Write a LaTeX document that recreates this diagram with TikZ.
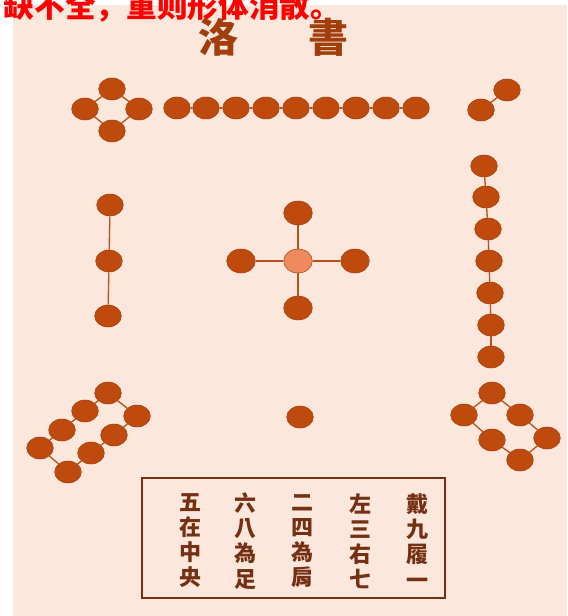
\documentclass[tikz,border=0pt]{standalone}
\usepackage{fontspec}
\newfontfamily\sccjk{Noto Sans CJK SC}
\newfontfamily\tccjk{Noto Sans CJK TC}
\usetikzlibrary{shapes.geometric}
\definecolor{paper}{HTML}{FCE7DC}
\definecolor{beadbrown}{HTML}{BF4A0E}
\definecolor{beadlight}{HTML}{EE8A5E}
\definecolor{inkbrown}{HTML}{743012}
\definecolor{linkbrown}{HTML}{B5521C}
\definecolor{titlebrown}{HTML}{A03E0C}
\tikzset{
  bead/.style={ellipse,fill=beadbrown,draw=beadbrown!85!black,line width=0.4pt,
    minimum width=20pt,minimum height=16.5pt,inner sep=0pt},
  bigbead/.style={bead,minimum width=21.5pt,minimum height=18pt},
  link/.style={draw=linkbrown,line width=1pt},
  verse/.style={text=inkbrown,font=\tccjk\bfseries\fontsize{16.5}{18.8}\selectfont,align=center}
}
\begin{document}
\begin{tikzpicture}[x=0.75pt,y=-0.75pt]
    \useasboundingbox (0,0) rectangle (567,616);
    \fill[white] (0,0) rectangle (567,616);
    \fill[paper] (13,5) rectangle (567,616);
    % title and caption above
    \node[font=\sccjk\bfseries\fontsize{23}{23}\selectfont,text=red,anchor=base west] (note) at (-1,18) {缺不全，重则形体消散。};
    \node[font=\tccjk\bfseries\fontsize{30}{30}\selectfont,text=titlebrown] (luo) at (218,37) {洛};
    \node[font=\tccjk\bfseries\fontsize{30}{30}\selectfont,text=titlebrown] (shu) at (328,37) {書};
    % four, top left
    \node[bead] (a1) at (112,89) {};
    \node[bead] (a2) at (85,109) {};
    \node[bead] (a3) at (139,109) {};
    \node[bead] (a4) at (112,131) {};
    \draw[link] (a1) -- (a2) (a1) -- (a3) (a2) -- (a4) (a3) -- (a4);
    % nine, top
    \node[bead] (n1) at (177,108) {};
    \node[bead] (n2) at (206,108) {};
    \node[bead] (n3) at (236,108) {};
    \node[bead] (n4) at (266,108) {};
    \node[bead] (n5) at (296,108) {};
    \node[bead] (n6) at (326,108) {};
    \node[bead] (n7) at (356,108) {};
    \node[bead] (n8) at (386,108) {};
    \node[bead] (n9) at (416,108) {};
    \foreach \i/\j in {1/2,2/3,3/4,4/5,5/6,6/7,7/8,8/9}
        \draw[link] (n\i) -- (n\j);
    % two, top right
    \node[bead] (b1) at (507,90) {};
    \node[bead] (b2) at (481,110) {};
    \draw[link] (b1) -- (b2);
    % three, left
    \node[bead] (c1) at (110,205) {};
    \node[bead] (c2) at (109,261) {};
    \node[bead] (c3) at (108,316) {};
    \draw[link] (c1) -- (c2) -- (c3);
    % five, centre
    \node[bigbead,fill=beadlight] (m0) at (298,261) {};
    \node[bigbead] (m1) at (298,213) {};
    \node[bigbead] (m2) at (241,261) {};
    \node[bigbead] (m3) at (355,261) {};
    \node[bigbead] (m4) at (298,308) {};
    \draw[link] (m0) -- (m1) (m0) -- (m2) (m0) -- (m3) (m0) -- (m4);
    % seven, right
    \node[bead] (s1) at (484,166) {};
    \node[bead] (s2) at (486,197) {};
    \node[bead] (s3) at (488,229) {};
    \node[bead] (s4) at (489,261) {};
    \node[bead] (s5) at (490,293) {};
    \node[bead] (s6) at (491,325) {};
    \node[bead] (s7) at (491,357) {};
    \foreach \i/\j in {1/2,2/3,3/4,4/5,5/6,6/7}
        \draw[link] (s\i) -- (s\j);
    % one, bottom
    \node[bead] (o1) at (300,417) {};
    % eight, bottom left
    \node[bead] (e1) at (108,393) {};
    \node[bead] (e2) at (85,411) {};
    \node[bead] (e3) at (62,430) {};
    \node[bead] (e4) at (40,448) {};
    \node[bead] (e5) at (68,472) {};
    \node[bead] (e6) at (91,453) {};
    \node[bead] (e7) at (114,435) {};
    \node[bead] (e8) at (137,416) {};
    \foreach \i/\j in {1/2,2/3,3/4,4/5,5/6,6/7,7/8,8/1}
        \draw[link] (e\i) -- (e\j);
    % six, bottom right
    \node[bead] (x1) at (492,393) {};
    \node[bead] (x2) at (464,415) {};
    \node[bead] (x3) at (492,440) {};
    \node[bead] (x4) at (520,460) {};
    \node[bead] (x5) at (547,438) {};
    \node[bead] (x6) at (520,415) {};
    \foreach \i/\j in {1/2,2/3,3/4,4/5,5/6,6/1}
        \draw[link] (x\i) -- (x\j);
    % verse box
    \draw[inkbrown,line width=0.9pt] (142,478) rectangle (445,598);
    \node[verse] (v1) at (417,541) {戴\\九\\履\\一};
    \node[verse] (v2) at (360,541) {左\\三\\右\\七};
    \node[verse] (v3) at (302,541) {二\\四\\為\\肩};
    \node[verse] (v4) at (245,541) {六\\八\\為\\足};
    \node[verse] (v5) at (190,541) {五\\在\\中\\央};
\end{tikzpicture}
\end{document}
